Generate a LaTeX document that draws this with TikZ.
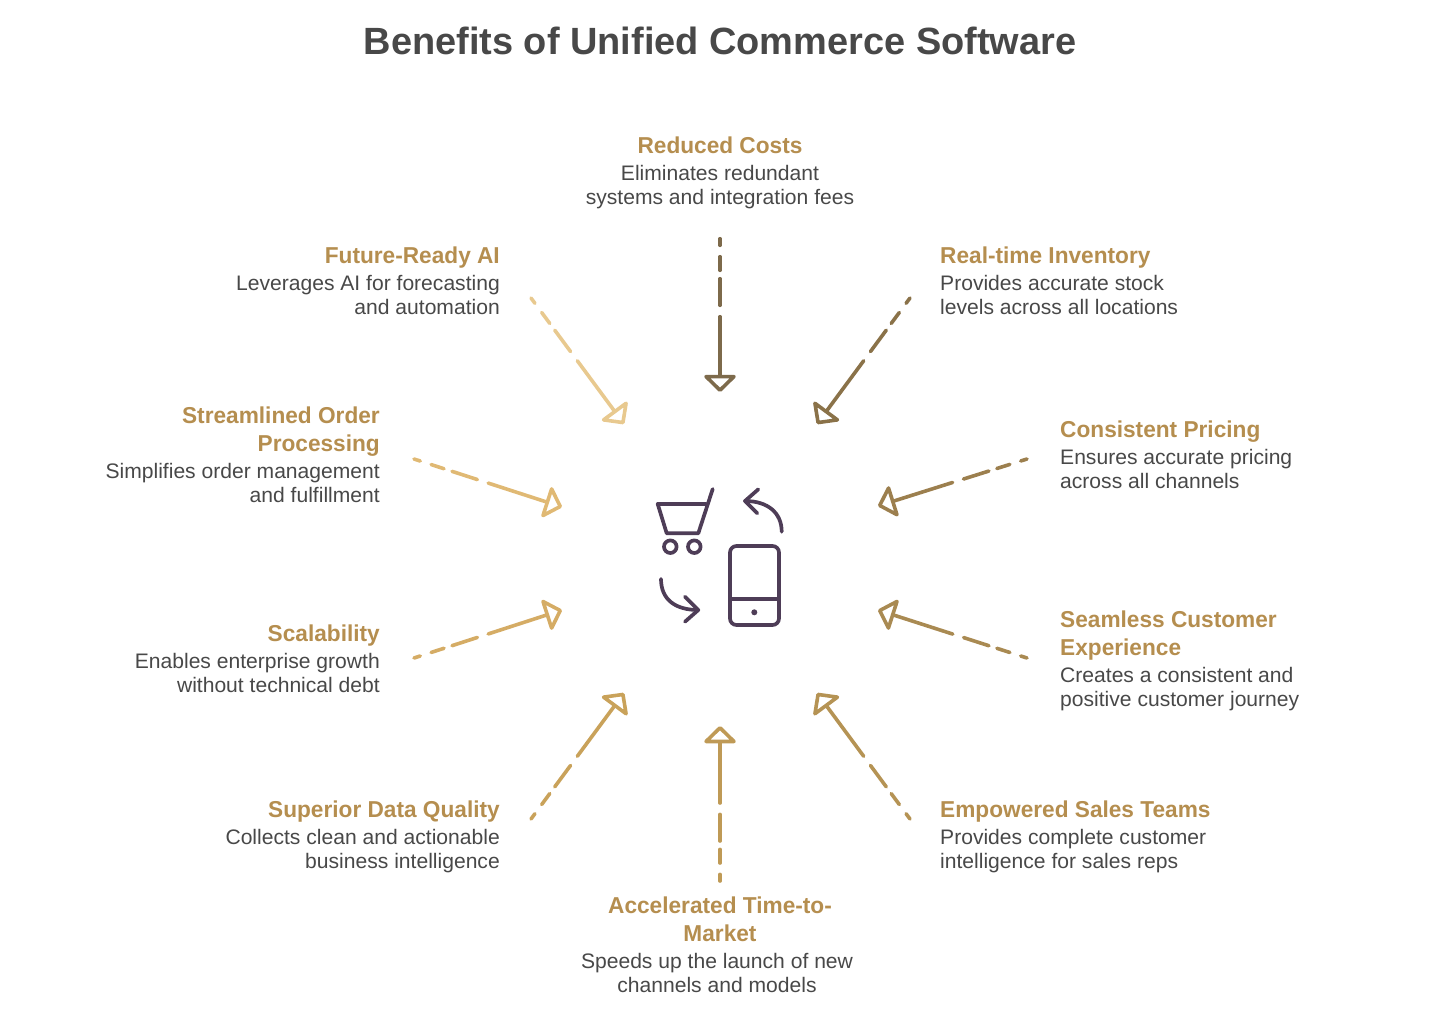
\documentclass[tikz,border=0pt]{standalone}
\usepackage{fontspec}
\usetikzlibrary{arrows.meta}
\setmainfont{Liberation Sans}
\newfontfamily\bodyfont[FakeStretch=1.004]{Liberation Sans}
\newfontfamily\headfont[FakeStretch=0.985,BoldFont={Liberation Sans Bold}]{Liberation Sans}
\newcommand\tl[1]{\rule{0pt}{#1pt}}
\definecolor{icon}{HTML}{4E3D57}
\definecolor{ink}{HTML}{484848}
\definecolor{head}{HTML}{B58E4F}
\definecolor{ca}{HTML}{7D6A4B}
\definecolor{cb}{HTML}{8A7249}
\definecolor{cc}{HTML}{9C7F4E}
\definecolor{cd}{HTML}{A98A52}
\definecolor{ce}{HTML}{B59354}
\definecolor{cf}{HTML}{BF9A56}
\definecolor{cg}{HTML}{C9A25A}
\definecolor{ch}{HTML}{D5AC65}
\definecolor{ci}{HTML}{E0B974}
\definecolor{cj}{HTML}{E8C98F}
\tikzset{
  titletext/.style={inner sep=0,anchor=north,yshift=30pt,text=ink,font=\fontsize{37.95}{40}\selectfont\bfseries},
  hd/.style={inner sep=0,yshift=20.4pt,text=head,font=\fontsize{23}{28}\headfont\bfseries},
  bd/.style={inner sep=0,yshift=20pt,text=ink,font=\fontsize{21}{24}\bodyfont},
  linka/.style={line width=3.6pt,line cap=round,line join=round,
    dash pattern=on 6.6pt off 11.4pt on 13.6pt off 8.4pt on 26.6pt off 11.4pt on 400pt off 1pt,
    -{Triangle[open,length=18pt,width=36pt,round]}},
  iconline/.style={draw=icon,line width=3.7pt,line cap=round,line join=round}
}
\begin{document}
\begin{tikzpicture}[x=1pt,y=-1pt]
\useasboundingbox (0,0) rectangle (1440,1018);
\node[titletext] (title) at (720,54.5) {\tl{30}Benefits of Unified Commerce Software};

\node[hd,anchor=north] (h1) at (720,154) {\tl{20}Reduced Costs};
\node[bd,anchor=north,align=center] (b1) at (720,180) {\tl{20}Eliminates redundant\\systems and integration fees};

\node[hd,anchor=north west] (h2) at (940,264) {\tl{20}Real-time Inventory};
\node[bd,anchor=north west,align=left] (b2) at (940,290) {\tl{20}Provides accurate stock\\levels across all locations};

\node[hd,anchor=north west] (h3) at (1060,438) {\tl{20}Consistent Pricing};
\node[bd,anchor=north west,align=left] (b3) at (1060,464) {\tl{20}Ensures accurate pricing\\across all channels};

\node[hd,anchor=north west,align=left] (h4) at (1060,628) {\tl{20}Seamless Customer\\Experience};
\node[bd,anchor=north west,align=left] (b4) at (1060,682) {\tl{20}Creates a consistent and\\positive customer journey};

\node[hd,anchor=north west] (h5) at (940,818) {\tl{20}Empowered Sales Teams};
\node[bd,anchor=north west,align=left] (b5) at (940,844) {\tl{20}Provides complete customer\\intelligence for sales reps};

\node[hd,anchor=north,align=center] (h6) at (720,914) {\tl{20}Accelerated Time-to-\\Market};
\node[bd,anchor=north,align=center] (b6) at (717,968) {\tl{20}Speeds up the launch of new\\channels and models};

\node[hd,anchor=north east] (h7) at (500,818) {\tl{20}Superior Data Quality};
\node[bd,anchor=north east,align=right] (b7) at (500,844) {\tl{20}Collects clean and actionable\\business intelligence};

\node[hd,anchor=north east] (h8) at (380,642) {\tl{20}Scalability};
\node[bd,anchor=north east,align=right] (b8) at (380,668) {\tl{20}Enables enterprise growth\\without technical debt};

\node[hd,anchor=north east,align=right] (h9) at (380,424) {\tl{20}Streamlined Order\\Processing};
\node[bd,anchor=north east,align=right] (b9) at (380,478) {\tl{20}Simplifies order management\\and fulfillment};

\node[hd,anchor=north east] (h10) at (500,264) {\tl{20}Future-Ready AI};
\node[bd,anchor=north east,align=right] (b10) at (500,290) {\tl{20}Leverages AI for forecasting\\and automation};

% connector ends
\coordinate (s1) at (720,238.7); \coordinate (e1) at (720,392);
\coordinate (s2) at (910,298);   \coordinate (e2) at (817,424);
\coordinate (s3) at (1027,459);  \coordinate (e3) at (878,506);
\coordinate (s4) at (1027,658);  \coordinate (e4) at (878,610);
\coordinate (s5) at (910,819);   \coordinate (e5) at (817,693);
\coordinate (s6) at (720,881);   \coordinate (e6) at (720,726);
\coordinate (s7) at (531,819);   \coordinate (e7) at (624,693);
\coordinate (s8) at (414,658);   \coordinate (e8) at (562,610);
\coordinate (s9) at (414,459);   \coordinate (e9) at (562,507);
\coordinate (s10) at (531,298);  \coordinate (e10) at (624,424);

\draw[linka,draw=ca] (s1) -- (e1);
\draw[linka,draw=cb] (s2) -- (e2);
\draw[linka,draw=cc] (s3) -- (e3);
\draw[linka,draw=cd] (s4) -- (e4);
\draw[linka,draw=ce] (s5) -- (e5);
\draw[linka,draw=cf] (s6) -- (e6);
\draw[linka,draw=cg] (s7) -- (e7);
\draw[linka,draw=ch] (s8) -- (e8);
\draw[linka,draw=ci] (s9) -- (e9);
\draw[linka,draw=cj] (s10) -- (e10);

% central icon
\draw[iconline] (657.7,504) -- (666.7,533.3) -- (698.3,533.3) -- (712.7,489);
\draw[iconline] (657.7,504) -- (705.7,504);
\draw[iconline] (670.3,546.7) circle (6.3);
\draw[iconline] (694.3,546.7) circle (6.3);
\draw[iconline,rounded corners=6.5pt] (730,546) rectangle (779,625);
\draw[iconline] (730,599.3) -- (779,599.3);
\fill[icon] (754.3,612.3) circle (3);
\draw[iconline] (781.7,531.7) .. controls (781.7,513) and (768,501) .. (745,501);
\draw[iconline] (758.3,489.3) -- (745,501) -- (757.3,513.3);
\draw[iconline] (661,579) .. controls (661,600) and (676,610) .. (698.3,610);
\draw[iconline] (685,596.7) -- (698.3,610) -- (685,621.7);
\end{tikzpicture}
\end{document}
